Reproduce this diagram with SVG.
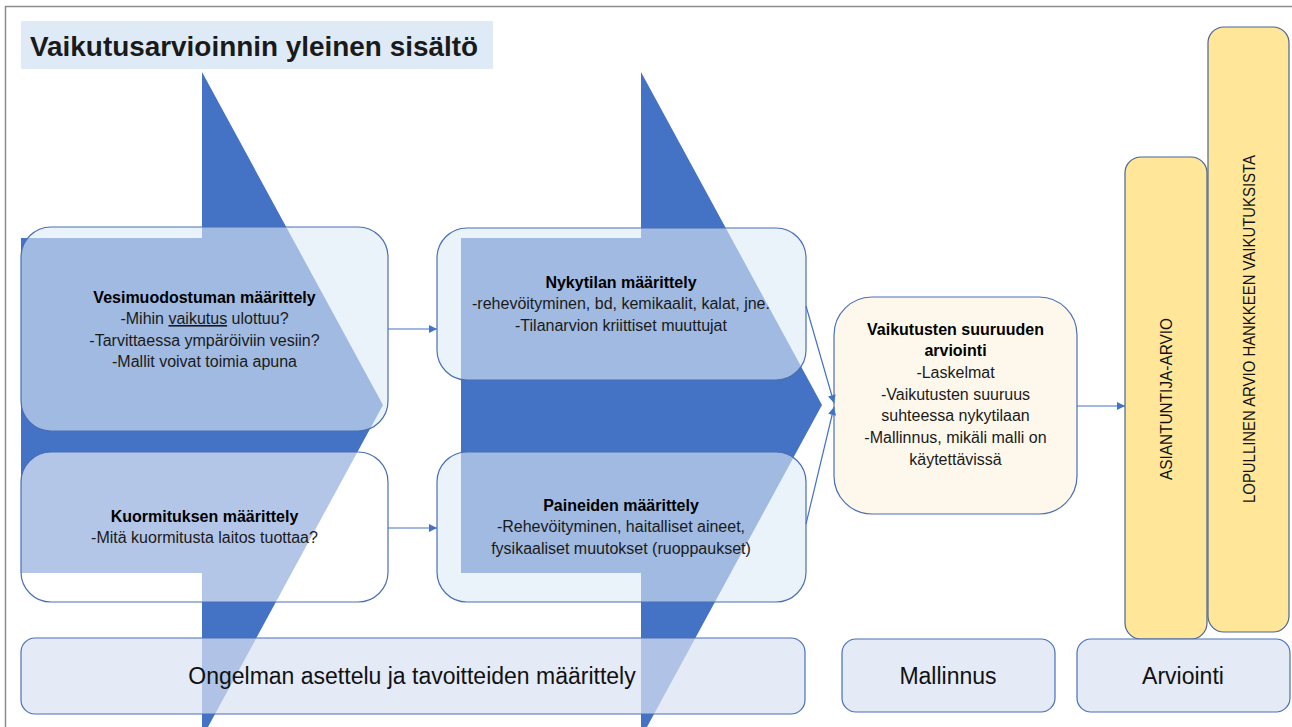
<svg xmlns="http://www.w3.org/2000/svg" width="1292" height="727" viewBox="0 0 1292 727">
<defs>
<style>
.frame{stroke:#8c8c8c;stroke-width:1.5;fill:none}
.arrow{fill:#4472C4}
.box{stroke:#4A6FB5;stroke-width:1.2}
.blue{fill:#DEEBF7;fill-opacity:0.6}
.white{fill:#FFFFFF;fill-opacity:0.6}
.cream{fill:#FEF8EC}
.yellow{fill:#FFE699;stroke:#4A6490;stroke-width:1.2}
.bottom{fill:#D9E2F3;fill-opacity:0.72;stroke:#4A6FB5;stroke-width:1.2}
.conn{stroke:#4472C4;stroke-width:1.2;fill:none;marker-end:url(#ah)}
text{font-family:"Liberation Sans",Arial,sans-serif;fill:#1a1a1a}
.t{font-size:16px;text-anchor:middle}
.b{font-weight:bold;fill:#000}
.big{font-size:23px;text-anchor:middle;fill:#111}
.vert{font-size:16px;text-anchor:middle;fill:#111}
</style>
<marker id="ah" viewBox="0 0 10 10" refX="10" refY="5" markerWidth="9" markerHeight="8" markerUnits="userSpaceOnUse" orient="auto">
<path d="M0,0 L10,5 L0,10 z" fill="#4472C4"/>
</marker>
</defs>
<rect width="1292" height="727" fill="#FFFFFF"/>
<path class="frame" d="M5.5,727 L5.5,6.5 L1292,6.5"/>
<g id="title">
<rect x="21" y="21" width="472" height="48" fill="#DEEBF7"/>
<text x="30" y="56" font-size="27.5" font-weight="bold" fill="#000" textLength="448" lengthAdjust="spacingAndGlyphs">Vaikutusarvioinnin yleinen sisältö</text>
</g>
<g id="arrows">
<polygon class="arrow" points="21,238 202,238 202,72 383,405 202,738 202,573 21,573"/>
<polygon class="arrow" points="461,238 641,238 641,72 822,405 641,738 641,573 461,573"/>
</g>
<g id="vesimuodostuma">
<rect class="box blue" x="21" y="227" width="367" height="204" rx="30"/>
<text class="t b" x="204.5" y="303">Vesimuodostuman määrittely</text>
<text class="t" x="204.5" y="324">-Mihin <tspan text-decoration="underline">vaikutus</tspan> ulottuu?</text>
<text class="t" x="204.5" y="346">-Tarvittaessa ympäröiviin vesiin?</text>
<text class="t" x="204.5" y="367">-Mallit voivat toimia apuna</text>
</g>
<g id="kuormitus">
<rect class="box white" x="21" y="452" width="367" height="150" rx="30"/>
<text class="t b" x="204.5" y="522">Kuormituksen määrittely</text>
<text class="t" x="204.5" y="543">-Mitä kuormitusta laitos tuottaa?</text>
</g>
<g id="nykytila">
<rect class="box blue" x="437" y="228" width="369" height="152" rx="30"/>
<text class="t b" x="621" y="288">Nykytilan määrittely</text>
<text class="t" x="621" y="309">-rehevöityminen, bd, kemikaalit, kalat, jne.</text>
<text class="t" x="621" y="331">-Tilanarvion kriittiset muuttujat</text>
</g>
<g id="paineet">
<rect class="box blue" x="437" y="452" width="369" height="150" rx="30"/>
<text class="t b" x="621" y="511">Paineiden määrittely</text>
<text class="t" x="621" y="532">-Rehevöityminen, haitalliset aineet,</text>
<text class="t" x="621" y="554">fysikaaliset muutokset (ruoppaukset)</text>
</g>
<g id="suuruus">
<rect class="box cream" x="834" y="297" width="243" height="217" rx="38"/>
<text class="t b" x="955.5" y="335">Vaikutusten suuruuden</text>
<text class="t b" x="955.5" y="356">arviointi</text>
<text class="t" x="955.5" y="378">-Laskelmat</text>
<text class="t" x="955.5" y="400">-Vaikutusten suuruus</text>
<text class="t" x="955.5" y="421">suhteessa nykytilaan</text>
<text class="t" x="955.5" y="443">-Mallinnus, mikäli malli on</text>
<text class="t" x="955.5" y="465">käytettävissä</text>
</g>
<g id="connectors">
<path class="conn" d="M388,329 L437,329"/>
<path class="conn" d="M388,528 L437,528"/>
<path class="conn" d="M806,306 L834,403"/>
<path class="conn" d="M806,524 L834,407"/>
<path class="conn" d="M1077,406 L1125,406"/>
</g>
<g id="asiantuntija">
<rect class="yellow" x="1125" y="157" width="82" height="482" rx="16"/>
<text class="vert" transform="translate(1172,399) rotate(-90)" textLength="162" lengthAdjust="spacingAndGlyphs">ASIANTUNTIJA-ARVIO</text>
</g>
<g id="lopullinen">
<rect class="yellow" x="1208" y="27" width="81" height="605" rx="16"/>
<text class="vert" transform="translate(1255,329) rotate(-90)" textLength="348" lengthAdjust="spacingAndGlyphs">LOPULLINEN ARVIO HANKKEEN VAIKUTUKSISTA</text>
</g>
<g id="ongelman">
<rect class="bottom" x="21" y="638" width="784" height="76" rx="14"/>
<text class="big" x="412" y="684">Ongelman asettelu ja tavoitteiden määrittely</text>
</g>
<g id="mallinnus">
<rect class="bottom" x="842" y="639" width="213" height="73" rx="14"/>
<text class="big" x="948" y="684">Mallinnus</text>
</g>
<g id="arviointi">
<rect class="bottom" x="1077" y="639" width="213" height="73" rx="14"/>
<text class="big" x="1183" y="684">Arviointi</text>
</g>
</svg>
